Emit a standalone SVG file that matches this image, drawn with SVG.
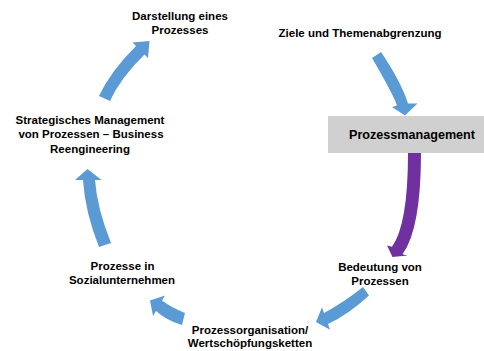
<svg xmlns="http://www.w3.org/2000/svg" width="484" height="351" viewBox="0 0 484 351">
  <style>
    .lbl { font-family: "Liberation Sans", Arial, sans-serif; font-weight: bold; font-size: 11.5px; fill: #000; text-anchor: middle; }
    .main { font-size: 12.6px; }
    .arrow { fill: #5b9bd5; }
    .arrow-accent { fill: #7030a0; }
    .box { fill: #d0d0d0; }
  </style>
  <rect width="484" height="351" fill="#fff"/>

  <!-- cycle of curved block arrows -->
  <g id="connectors">
    <path class="arrow" d="M99,96 Q110.3,71.6 136,46 L132.5,42.5 L149.5,41 L148,58 L144.5,54.5 Q120.3,78.2 110,101 Z"/>
    <path class="arrow" d="M372,58 Q393,94 397,105.5 L392,107 L405,115.5 L417.5,103.5 L408,103.5 Q401.5,82.5 381,52 Z"/>
    <path class="arrow-accent" d="M408,153 Q408,224.7 392,246.7 L387,245.5 L392.5,257 L407.5,255.5 L402.5,254.3 Q421,228.9 421,153 Z"/>
    <path class="arrow" d="M363,287 Q343,303 324,312.9 L322,307.2 L316,322 L330,329.8 L328,324.1 Q349,314 369,295.5 Z"/>
    <path class="arrow" d="M185,313 Q172,308 162,300.6 L165,295.5 L150,300.5 L153,316 L156,310.9 Q166,320 182,325 Z"/>
    <path class="arrow" d="M99,247 Q85,212 83,180 L75,180 L87.5,169 L101.5,180 L95,180 Q97,208 111,243 Z"/>
  </g>

  <g id="node-ziele">
    <text class="lbl" x="360" y="37">Ziele und Themenabgrenzung</text>
  </g>

  <g id="node-prozessmanagement">
    <rect class="box" x="328" y="116" width="156" height="37"/>
    <text class="lbl main" x="412" y="138.5">Prozessmanagement</text>
  </g>

  <g id="node-bedeutung">
    <text class="lbl" x="380" y="271">Bedeutung von</text>
    <text class="lbl" x="380" y="284.5">Prozessen</text>
  </g>

  <g id="node-prozessorganisation">
    <text class="lbl" x="250" y="333.5">Prozessorganisation/</text>
    <text class="lbl" x="250" y="347">Wertschöpfungsketten</text>
  </g>

  <g id="node-sozialunternehmen">
    <text class="lbl" x="122.5" y="270">Prozesse in</text>
    <text class="lbl" x="122" y="284">Sozialunternehmen</text>
  </g>

  <g id="node-strategisch">
    <text class="lbl" x="90" y="123.5">Strategisches Management</text>
    <text class="lbl" x="91" y="138">von Prozessen – Business</text>
    <text class="lbl" x="90" y="152.5">Reengineering</text>
  </g>

  <g id="node-darstellung">
    <text class="lbl" x="180" y="20">Darstellung eines</text>
    <text class="lbl" x="180" y="33.5">Prozesses</text>
  </g>
</svg>
